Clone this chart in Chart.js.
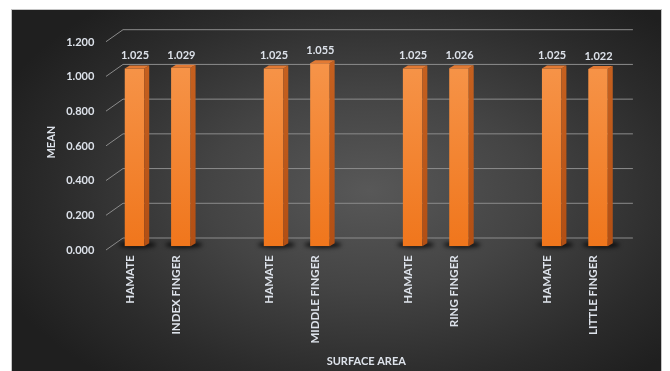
<!DOCTYPE html>
<html>
<head>
<meta charset="utf-8">
<script src="https://cdn.jsdelivr.net/npm/chart.js@4.4.1/dist/chart.umd.min.js"></script>
<style>
  html, body { margin: 0; padding: 0; background: #ffffff; }
  #wrap { position: relative; width: 670px; height: 371px; overflow: hidden; }
  #panel {
    position: absolute; left: 11px; top: 9px; width: 651px; height: 362px;
    box-sizing: border-box; border: 1px solid #c4c4c4; border-bottom: none;
    background: radial-gradient(ellipse 62% 68% at 55% 50%, #585858 0%, #444444 40%, #2b2b2b 78%, #1f1f1f 100%);
  }
  #c { position: absolute; left: 0; top: 0; }
</style>
</head>
<body>
<div id="wrap">
  <div id="panel"></div>
  <canvas id="c" width="670" height="371"></canvas>
</div>
<script>
// Mean surface-area ratios: hamate vs. each finger
const hamateLabel = 'HAMATE';
const hamateMeans = [1.025, 1.025, 1.025, 1.025];
const fingerNames = ['INDEX FINGER', 'MIDDLE FINGER', 'RING FINGER', 'LITTLE FINGER'];
const fingerMeans = [1.029, 1.055, 1.026, 1.022];
const yMin = 0, yMax = 1.2, yStep = 0.2;

// Pairs separated by one empty slot
const categories = [];
const values = [];
fingerNames.forEach((name, i) => {
  categories.push(hamateLabel, name);
  values.push(hamateMeans[i], fingerMeans[i]);
  if (i < fingerNames.length - 1) { categories.push(''); values.push(null); }
});

const TEXT = '#dde2ea';
const FONT = 'Lato, "Open Sans", sans-serif';
// perspective offsets of the front edge and back wall relative to the bar plane
const FRONT = { dx: -5.3, dy: 3.7 };
const BACK = { dx: 11.7, dy: -8.3 };
const DEPTH = { dx: 5, dy: -3 };

Chart.defaults.font.family = FONT;
Chart.defaults.color = TEXT;

const wallPlugin = {
  id: 'wall',
  beforeDatasetsDraw(chart) {
    const { ctx, chartArea: a, scales: { y } } = chart;
    ctx.save();
    ctx.strokeStyle = '#8c8c8c';
    ctx.lineWidth = 1;
    y.ticks.forEach(t => {
      const py = y.getPixelForValue(t.value);
      ctx.beginPath();
      ctx.moveTo(a.left + FRONT.dx, py + FRONT.dy);
      ctx.lineTo(a.left + BACK.dx, py + BACK.dy);
      ctx.lineTo(a.right + BACK.dx, py + BACK.dy);
      ctx.stroke();
    });
    // soft floor shadows behind the bars
    const meta = chart.getDatasetMeta(0);
    ctx.filter = 'blur(2px)';
    ctx.fillStyle = 'rgba(0,0,0,0.75)';
    meta.data.forEach((bar, i) => {
      if (values[i] == null) return;
      ctx.beginPath();
      ctx.ellipse(bar.x + 3, bar.base - 1.5, bar.width * 0.95, 3.2, 0, 0, Math.PI * 2);
      ctx.fill();
    });
    ctx.restore();
  }
};

const bar3dPlugin = {
  id: 'bar3d',
  afterDatasetsDraw(chart) {
    const { ctx } = chart;
    const meta = chart.getDatasetMeta(0);
    ctx.save();
    meta.data.forEach((bar, i) => {
      const v = values[i];
      if (v == null) return;
      const l = bar.x - bar.width / 2, r = bar.x + bar.width / 2;
      const top = bar.y, base = bar.base;
      // side face
      const sg = ctx.createLinearGradient(0, top, 0, base);
      sg.addColorStop(0, '#c5601f');
      sg.addColorStop(1, '#b24f14');
      ctx.fillStyle = sg;
      ctx.beginPath();
      ctx.moveTo(r, top);
      ctx.lineTo(r + DEPTH.dx, top + DEPTH.dy);
      ctx.lineTo(r + DEPTH.dx, base + DEPTH.dy);
      ctx.lineTo(r, base);
      ctx.closePath();
      ctx.fill();
      // top face
      ctx.fillStyle = '#e27a34';
      ctx.beginPath();
      ctx.moveTo(l, top);
      ctx.lineTo(l + DEPTH.dx, top + DEPTH.dy);
      ctx.lineTo(r + DEPTH.dx, top + DEPTH.dy);
      ctx.lineTo(r, top);
      ctx.closePath();
      ctx.fill();
      // value label
      ctx.fillStyle = TEXT;
      ctx.font = 'bold 11px ' + FONT;
      ctx.textAlign = 'center';
      ctx.textBaseline = 'middle';
      ctx.fillText(v.toFixed(3), bar.x + 0.5, top - 12.5);
    });
    ctx.restore();
  }
};

new Chart(document.getElementById('c'), {
  type: 'bar',
  data: {
    labels: categories,
    datasets: [{
      data: values,
      borderWidth: 0,
      backgroundColor(context) {
        const a = context.chart.chartArea;
        if (!a) return '#f28030';
        const g = context.chart.ctx.createLinearGradient(0, a.top, 0, a.bottom);
        g.addColorStop(0, '#f7984f');
        g.addColorStop(1, '#f0761c');
        return g;
      },
      categoryPercentage: 1,
      barPercentage: 0.42
    }]
  },
  options: {
    responsive: false,
    animation: false,
    layout: { padding: { left: 40, top: 38, right: 48.8, bottom: 3 } },
    plugins: { legend: { display: false }, tooltip: { enabled: false } },
    scales: {
      x: {
        grid: { display: false, drawTicks: false },
        border: { display: false },
        ticks: {
          autoSkip: false, minRotation: 90, maxRotation: 90,
          padding: 9, labelOffset: -4.5,
          color: TEXT, font: { size: 11.5, weight: 'bold' }
        },
        title: {
          display: true, text: 'SURFACE AREA', color: TEXT,
          font: { size: 11, weight: 'bold' }, padding: { top: 0, bottom: 0 }
        },
        afterFit(scale) { scale.height = 371 - 3 - 246.3; }
      },
      y: {
        min: yMin, max: yMax,
        grid: { display: false, drawTicks: false },
        border: { display: false },
        ticks: {
          stepSize: yStep, padding: 17, labelOffset: 4,
          color: TEXT, font: { size: 11, weight: 'bold' },
          callback: v => Number(v).toFixed(3)
        },
        title: {
          display: true, text: 'MEAN', color: TEXT,
          font: { size: 11, weight: 'bold' }, padding: { top: 5, bottom: 0 }
        },
        afterFit(scale) { scale.width = 111.3 - 40; }
      }
    }
  },
  plugins: [wallPlugin, bar3dPlugin]
});
</script>
</body>
</html>
